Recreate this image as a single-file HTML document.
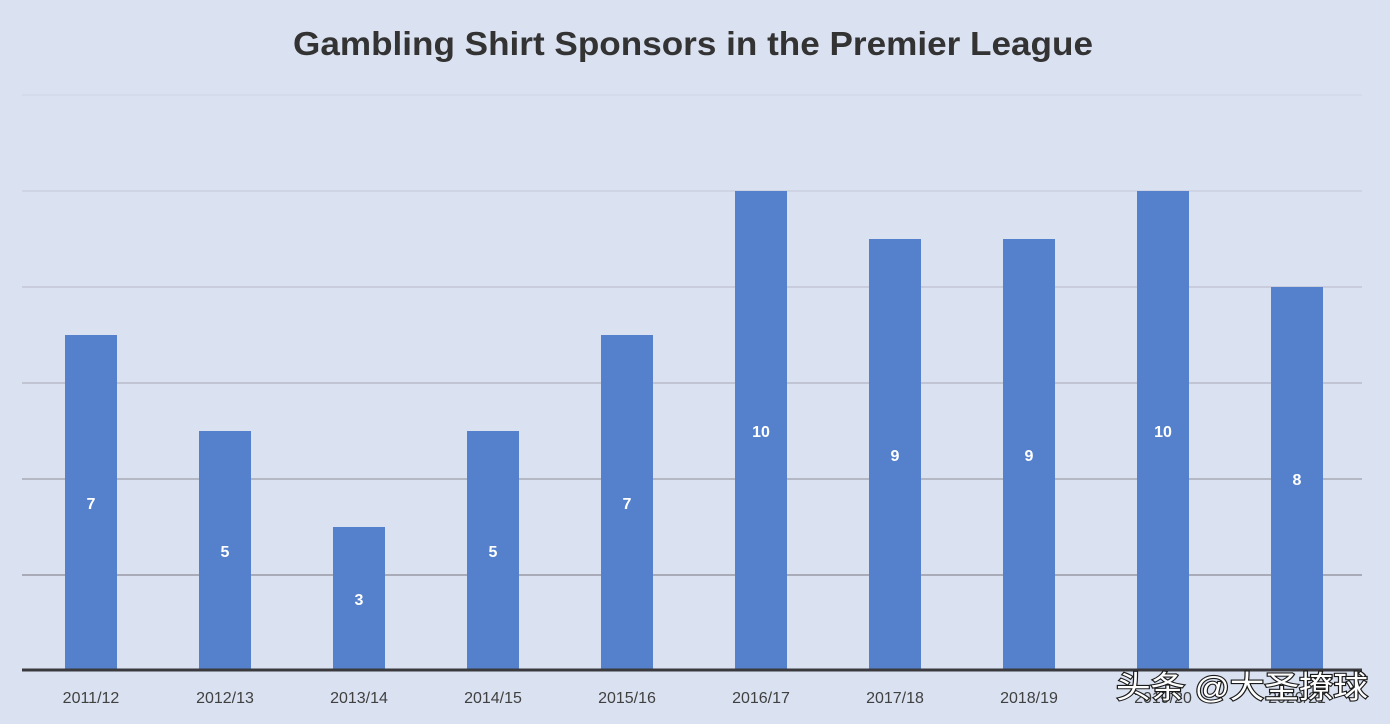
<!DOCTYPE html>
<html><head><meta charset="utf-8"><style>
html,body{margin:0;padding:0;background:#dae1f1;}
svg{display:block;font-family:"Liberation Sans","Noto Sans CJK SC",sans-serif;}
</style></head><body>
<svg width="1390" height="724" viewBox="0 0 1390 724">
<rect width="1390" height="724" fill="#dae1f1"/>
<text x="693" y="55" text-anchor="middle" font-size="33" font-weight="bold" fill="#333" textLength="800" lengthAdjust="spacingAndGlyphs">Gambling Shirt Sponsors in the Premier League</text>
<g stroke-width="1">
<line x1="22" x2="1362" y1="95" y2="95" stroke="#cfd6e6"/>
<line x1="22" x2="1362" y1="191" y2="191" stroke="#c4c8d8"/>
<line x1="22" x2="1362" y1="287" y2="287" stroke="#b8b8c8"/>
<line x1="22" x2="1362" y1="383" y2="383" stroke="#a8a8b4"/>
<line x1="22" x2="1362" y1="479" y2="479" stroke="#8f8f98"/>
<line x1="22" x2="1362" y1="575" y2="575" stroke="#78787e"/>
</g>
<g fill="#5580cb">
<rect x="65" y="335" width="52" height="336"/>
<rect x="199" y="431" width="52" height="240"/>
<rect x="333" y="527" width="52" height="144"/>
<rect x="467" y="431" width="52" height="240"/>
<rect x="601" y="335" width="52" height="336"/>
<rect x="735" y="191" width="52" height="480"/>
<rect x="869" y="239" width="52" height="432"/>
<rect x="1003" y="239" width="52" height="432"/>
<rect x="1137" y="191" width="52" height="480"/>
<rect x="1271" y="287" width="52" height="384"/>
</g>
<line x1="22" x2="1362" y1="670" y2="670" stroke="#3a3a3e" stroke-width="3"/>
<g fill="#fff" font-size="16" font-weight="bold" text-anchor="middle">
<text x="91" y="509">7</text>
<text x="225" y="557">5</text>
<text x="359" y="605">3</text>
<text x="493" y="557">5</text>
<text x="627" y="509">7</text>
<text x="761" y="437">10</text>
<text x="895" y="461">9</text>
<text x="1029" y="461">9</text>
<text x="1163" y="437">10</text>
<text x="1297" y="485">8</text>
</g>
<g fill="#404040" font-size="16" text-anchor="middle">
<text x="91" y="703">2011/12</text>
<text x="225" y="703">2012/13</text>
<text x="359" y="703">2013/14</text>
<text x="493" y="703">2014/15</text>
<text x="627" y="703">2015/16</text>
<text x="761" y="703">2016/17</text>
<text x="895" y="703">2017/18</text>
<text x="1029" y="703">2018/19</text>
<text x="1163" y="703">2019/20</text>
<text x="1297" y="703">2020/21</text>
</g>
<text x="1116" y="698" font-size="31" fill="#fff" stroke="#1a1a1a" stroke-width="2.2" paint-order="stroke" textLength="252" lengthAdjust="spacingAndGlyphs">头条 @大圣撩球</text>
</svg>
</body></html>
